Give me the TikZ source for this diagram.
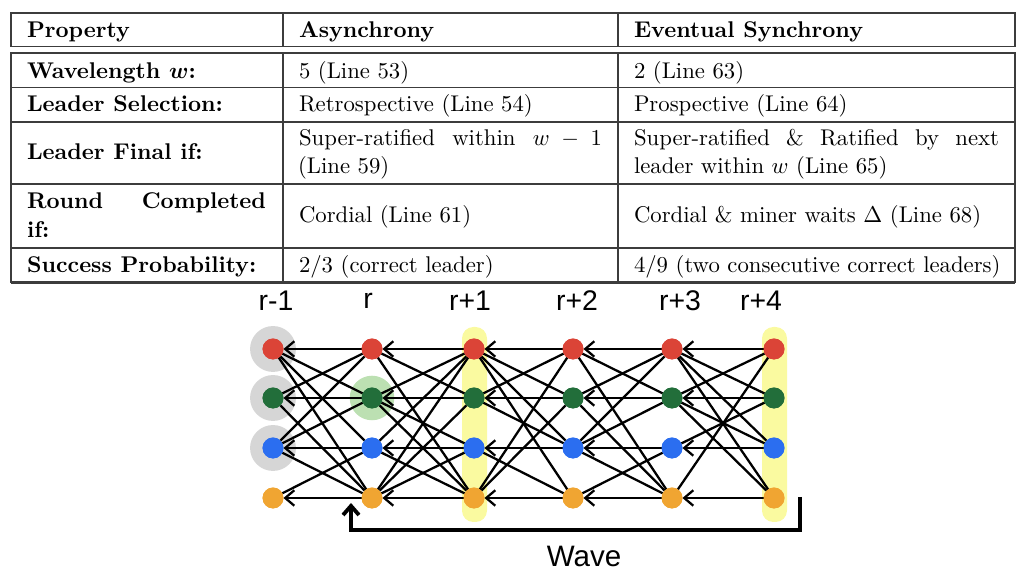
\documentclass[tikz,border=0pt]{standalone}
\usepackage{fontspec}
\newfontfamily\lblfont{Liberation Sans}
\usetikzlibrary{arrows.meta}
\newdimen\upx \upx=0.44pt
\definecolor{cred}{RGB}{219,68,55}
\definecolor{cgreen}{RGB}{34,110,58}
\definecolor{cblue}{RGB}{43,110,240}
\definecolor{corange}{RGB}{240,165,50}
\definecolor{halogray}{RGB}{214,214,214}
\definecolor{halogreen}{RGB}{188,224,178}
\definecolor{hlyellow}{RGB}{250,250,160}
\definecolor{rulecol}{RGB}{60,60,60}
\tikzset{
  cell/.style={anchor=base west, inner sep=0pt, outer sep=0pt, font=\fontsize{10}{12}\selectfont},
  hcell/.style={cell, font=\fontsize{10}{12}\selectfont\bfseries},
  tline/.style={draw=rulecol, line width=0.7pt},
  dot/.style={circle, minimum size=9.2pt, inner sep=0pt, outer sep=0pt},
  edge/.style={line width=1pt, black},
  hedge/.style={edge, -{Straight Barb[length=4pt,width=6.8pt]}},
  lbl/.style={inner sep=0pt, font=\lblfont\fontsize{12.5}{14}\selectfont},
  wavelbl/.style={inner sep=0pt, font=\lblfont\fontsize{13}{15}\selectfont},
  waveline/.style={line width=1.7pt, black, -{Straight Barb[length=4pt,width=7pt]}}
}
\begin{document}
\begin{tikzpicture}[x=0.44pt,y=-0.44pt]
\useasboundingbox (0,0) rectangle (1024,576);
% ---------------- table ----------------
\draw[tline] (11,13.3) rectangle (1015,46.7);
\draw[tline] (283,13.3) -- (283,46.7);
\draw[tline] (618,13.3) -- (618,46.7);
\draw[tline] (11,53.3) rectangle (1015,282.3);
\foreach \yy in {87.7,122,184.3,248.3} \draw[tline] (11,\yy) -- (1015,\yy);
\draw[tline] (283,53.3) -- (283,282.3);
\draw[tline] (618,53.3) -- (618,282.3);
\draw[draw=rulecol, line width=1.4pt] (11,282.3) -- (1015,282.3);

\node[hcell] (h1) at (27,37.7) {Property};
\node[hcell] (h2) at (299,37.7) {Asynchrony};
\node[hcell] (h3) at (634,37.7) {Eventual Synchrony};

\node[hcell] (a1) at (27,78.3) {Wavelength {\boldmath$w$}:};
\node[cell] (a2) at (299,78.3) {5 (Line 53)};
\node[cell] (a3) at (634,78.3) {2 (Line 63)};

\node[hcell] (b1) at (27,111.7) {Leader Selection:};
\node[cell] (b2) at (299,111.7) {Retrospective (Line 54)};
\node[cell] (b3) at (634,111.7) {Prospective (Line 64)};

\node[hcell] (c1) at (27,160) {Leader Final if:};
\node[cell] (c2) at (299,145.7) {\makebox[303\upx][s]{Super-ratified within $w-1$}};
\node[cell] (c2b) at (298,174) {(Line 59)};
\node[cell] (c3) at (634,145.7) {\makebox[365\upx][s]{Super-ratified \& Ratified by next}};
\node[cell] (c3b) at (634,174) {leader within $w$ (Line 65)};

\node[hcell] (d1) at (27,208.3) {\makebox[239\upx][s]{Round Completed}};
\node[hcell] (d1b) at (27,237.3) {if:};
\node[cell] (d2) at (299,222.7) {Cordial (Line 61)};
\node[cell] (d3) at (634,222.7) {Cordial \& miner waits $\Delta$ (Line 68)};

\node[hcell] (e1) at (27,272.7) {Success Probability:};
\node[cell] (e2) at (299,272.7) {2/3 (correct leader)};
\node[cell] (e3) at (634,272.7) {4/9 (two consecutive correct leaders)};

% ---------------- graph ----------------
% highlights
\fill[halogray] (273,349) circle (10.1pt);
\fill[halogray] (273,398) circle (10.1pt);
\fill[halogray] (273,448) circle (10.1pt);
\fill[halogreen] (372,398) circle (9.8pt);
\fill[hlyellow, rounded corners=5pt] (462,327) rectangle (487,522);
\fill[hlyellow, rounded corners=5pt] (762,327) rectangle (787,522);

% nodes
\foreach \c/\xx in {0/273,1/372,2/474,3/573,4/672,5/774}{
  \node[dot, fill=cred]    (n\c1) at (\xx,349) {};
  \node[dot, fill=cgreen]  (n\c2) at (\xx,398) {};
  \node[dot, fill=cblue]   (n\c3) at (\xx,448) {};
  \node[dot, fill=corange] (n\c4) at (\xx,498) {};
}

% horizontal references
\foreach \c/\d in {0/1,1/2,2/3,3/4,4/5}
  \foreach \i in {1,2,3,4}
    \draw[hedge] (n\d\i) -- (n\c\i);

% cross references (left row / right row)
\foreach \i/\j in {1/2,1/3,1/4,2/1,2/4,3/1,3/2,3/4,4/3}
  \draw[edge] (n1\j) -- (n0\i);
\foreach \i/\j in {1/2,1/4,2/1,2/3,2/4,3/1,3/4,4/1,4/2,4/3}
  \draw[edge] (n2\j) -- (n1\i);
\foreach \i/\j in {1/2,1/3,1/4,2/1,2/3,3/4,4/1,4/2}
  \draw[edge] (n3\j) -- (n2\i);
\foreach \i/\j in {1/2,1/4,2/1,2/4,3/1,3/2,3/4,4/3}
  \draw[edge] (n4\j) -- (n3\i);
\foreach \i/\j in {1/2,1/3,1/4,2/1,2/3,2/4,3/2,4/1}
  \draw[edge] (n5\j) -- (n4\i);

% redraw dots on top
\foreach \c/\xx in {0/273,1/372,2/474,3/573,4/672,5/774}{
  \fill[cred]    (\xx,349) circle (4.6pt);
  \fill[cgreen]  (\xx,398) circle (4.6pt);
  \fill[cblue]   (\xx,448) circle (4.6pt);
  \fill[corange] (\xx,498) circle (4.6pt);
}

% round labels
\node[lbl] (l0) at (276,301) {r-1};
\node[lbl] (l1) at (368,301) {r};
\node[lbl] (l2) at (470,301) {r+1};
\node[lbl] (l3) at (577,301) {r+2};
\node[lbl] (l4) at (680,301) {r+3};
\node[lbl] (l5) at (761,301) {r+4};

% wave bracket
\coordinate (wstart) at (800,497);
\coordinate (wend) at (351,503);
\draw[waveline] (wstart) |- (wend |- 0,530) -- (wend);
\node[wavelbl] (wave) at (584,556) {Wave};
\end{tikzpicture}
\end{document}
